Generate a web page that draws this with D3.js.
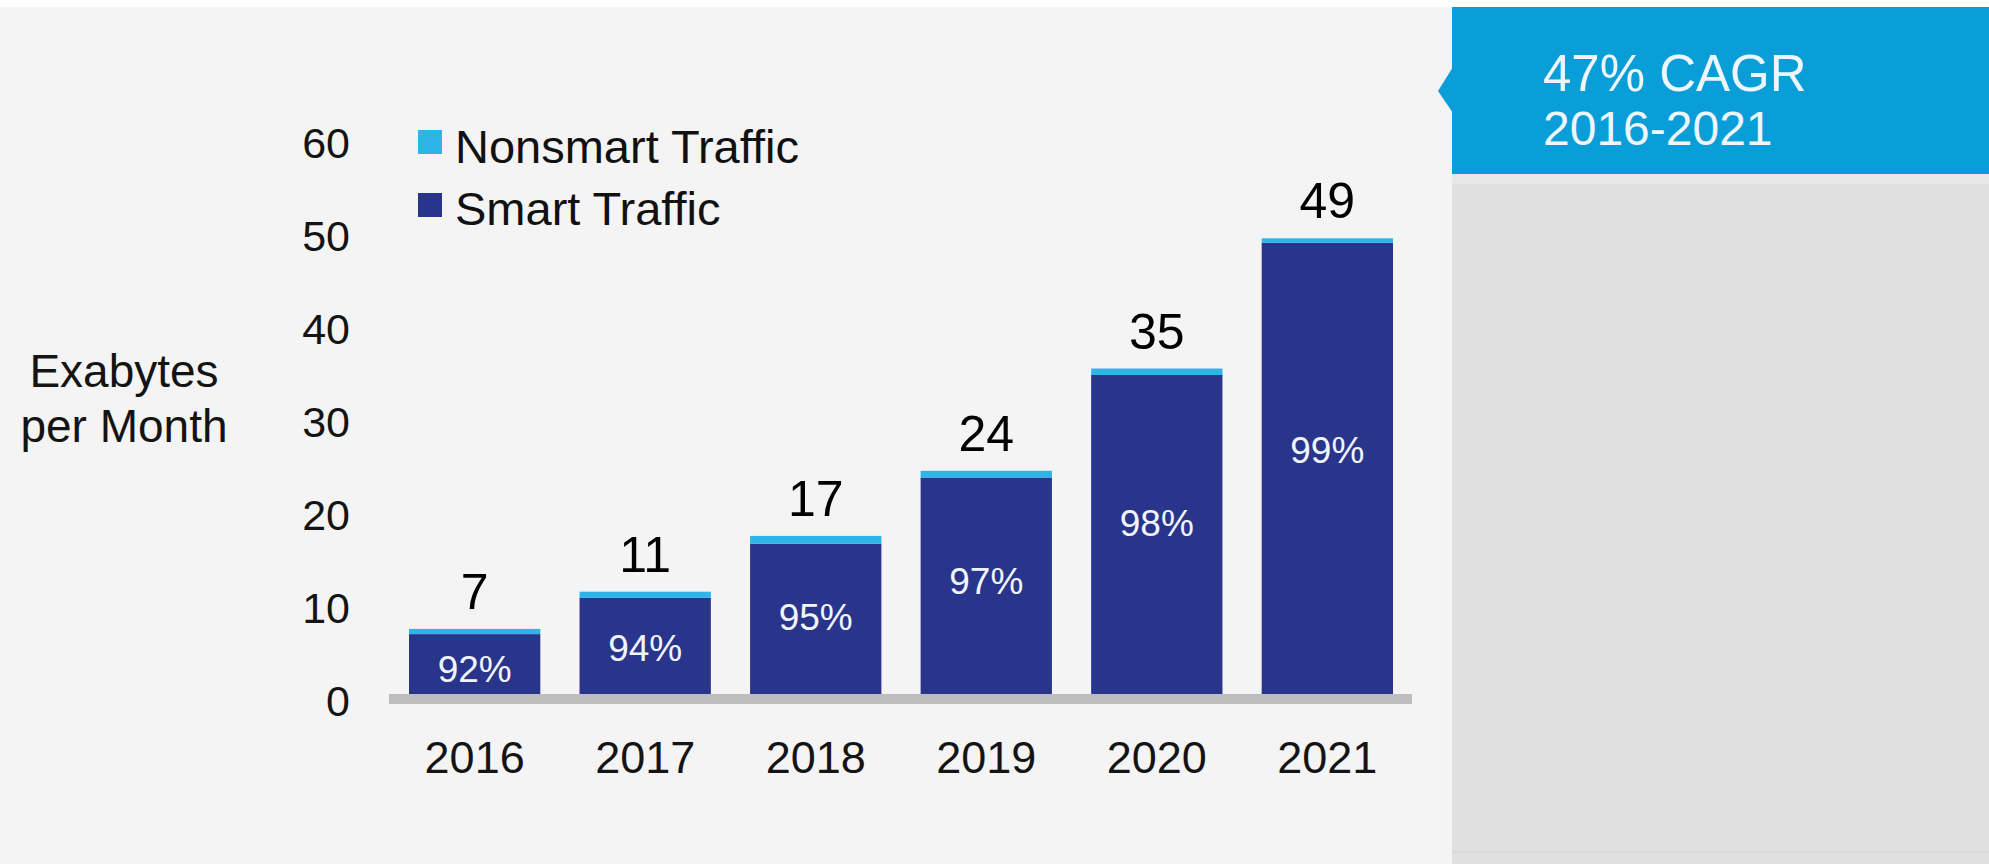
<!DOCTYPE html>
<html>
<head>
<meta charset="utf-8">
<script src="https://cdn.jsdelivr.net/npm/d3@7"></script>
<style>
  html, body { margin: 0; padding: 0; background: #f4f4f4; }
  svg { display: block; }
  text { font-family: "Liberation Sans", Arial, sans-serif; }
</style>
</head>
<body>
<svg id="chart" width="1989" height="864"></svg>
<script>
// Mobile data traffic, exabytes per month
const years = ["2016", "2017", "2018", "2019", "2020", "2021"];
const totals = [7, 11, 17, 24, 35, 49];
const smartShare = [0.92, 0.94, 0.95, 0.97, 0.98, 0.99];
const shareLabels = ["92%", "94%", "95%", "97%", "98%", "99%"];
const yTicks = [0, 10, 20, 30, 40, 50, 60];
const seriesNames = ["Nonsmart Traffic", "Smart Traffic"];
const axisTitle = ["Exabytes", "per Month"];
const calloutLines = ["47% CAGR", "2016-2021"];

const COLORS = { smart: "#29348b", nonsmart: "#2eb5e8", base: "#bdbdbd", callout: "#0a9ed9", panel: "#e0e0e0" };

const svg = d3.select("#chart");

// page background
svg.append("rect").attr("width", 1989).attr("height", 864).attr("fill", "#f4f4f4");
svg.append("rect").attr("width", 1989).attr("height", 7).attr("fill", "#ffffff");

// side panel with callout
svg.append("rect").attr("x", 1452).attr("y", 174).attr("width", 537).attr("height", 690).attr("fill", COLORS.panel);
svg.append("rect").attr("x", 1452).attr("y", 174).attr("width", 537).attr("height", 10).attr("fill", "#e7e7e7");
svg.append("line").attr("x1", 1452).attr("x2", 1989).attr("y1", 852).attr("y2", 852)
  .attr("stroke", "#d6d6d6").attr("stroke-width", 1);
svg.append("rect").attr("x", 1452).attr("y", 7).attr("width", 537).attr("height", 167).attr("fill", COLORS.callout);
svg.append("polygon").attr("points", "1453,67 1438,91 1453,113").attr("fill", COLORS.callout);
svg.selectAll("text.callout").data(calloutLines).join("text")
  .attr("class", "callout")
  .attr("x", 1543)
  .attr("y", (d, i) => i === 0 ? 91 : 145)
  .attr("fill", "#eef6fb")
  .attr("font-size", (d, i) => i === 0 ? 51 : 48)
  .attr("font-family", "Roboto, 'Liberation Sans', sans-serif")
  .text(d => d);

// scales
const x = d3.scaleBand().domain(years).range([409, 1393]).paddingInner(0.23).paddingOuter(0);
const y = d3.scaleLinear().domain([0, 60]).range([694, 136]);

// y tick labels
svg.append("g").selectAll("text").data(yTicks).join("text")
  .attr("x", 350)
  .attr("y", d => y(d) + 7)
  .attr("text-anchor", "end")
  .attr("dominant-baseline", "central")
  .attr("font-size", 43)
  .attr("fill", "#141414")
  .text(d => d);

// y axis title
svg.append("g").selectAll("text").data(axisTitle).join("text")
  .attr("x", 124)
  .attr("y", (d, i) => 387 + i * 55)
  .attr("text-anchor", "middle")
  .attr("font-size", 46)
  .attr("fill", "#141414")
  .text(d => d);

// stacked bars
const rows = years.map((yr, i) => ({
  year: yr,
  total: totals[i],
  smart: totals[i] * smartShare[i],
  label: shareLabels[i]
}));

const bars = svg.append("g");
bars.selectAll("rect.smart").data(rows).join("rect")
  .attr("class", "smart")
  .attr("x", d => x(d.year))
  .attr("width", x.bandwidth())
  .attr("y", d => y(d.smart))
  .attr("height", d => y(0) - y(d.smart))
  .attr("fill", COLORS.smart);
bars.selectAll("rect.nonsmart").data(rows).join("rect")
  .attr("class", "nonsmart")
  .attr("x", d => x(d.year))
  .attr("width", x.bandwidth())
  .attr("y", d => y(d.total))
  .attr("height", d => y(d.smart) - y(d.total))
  .attr("fill", COLORS.nonsmart);

// baseline
svg.append("rect").attr("x", 389).attr("y", y(0)).attr("width", 1023).attr("height", 10).attr("fill", COLORS.base);

// share labels inside bars, a little above middle on taller bars
svg.append("g").selectAll("text").data(rows).join("text")
  .attr("x", d => x(d.year) + x.bandwidth() / 2)
  .attr("y", d => y(d.total * 0.56 - 1.3))
  .attr("text-anchor", "middle")
  .attr("dominant-baseline", "central")
  .attr("font-size", 37)
  .attr("fill", "#f2f4fb")
  .text(d => d.label);

// totals above bars
svg.append("g").selectAll("text").data(rows).join("text")
  .attr("x", d => x(d.year) + x.bandwidth() / 2)
  .attr("y", d => y(d.total) - 20)
  .attr("text-anchor", "middle")
  .attr("font-size", 50)
  .attr("font-family", "'Open Sans', sans-serif")
  .attr("fill", "#000")
  .text(d => d.total);

// year labels
svg.append("g").selectAll("text").data(years).join("text")
  .attr("x", d => x(d) + x.bandwidth() / 2)
  .attr("y", 773)
  .attr("text-anchor", "middle")
  .attr("font-size", 45)
  .attr("fill", "#141414")
  .text(d => d);

// legend
const legend = svg.append("g");
const legendColors = [COLORS.nonsmart, COLORS.smart];
legend.selectAll("rect").data(seriesNames).join("rect")
  .attr("x", 418)
  .attr("y", (d, i) => 130 + i * 63)
  .attr("width", 24)
  .attr("height", 24)
  .attr("fill", (d, i) => legendColors[i]);
legend.selectAll("text").data(seriesNames).join("text")
  .attr("x", 455)
  .attr("y", (d, i) => 163 + i * 62)
  .attr("font-size", 47)
  .attr("fill", "#111")
  .text(d => d);
</script>
</body>
</html>
